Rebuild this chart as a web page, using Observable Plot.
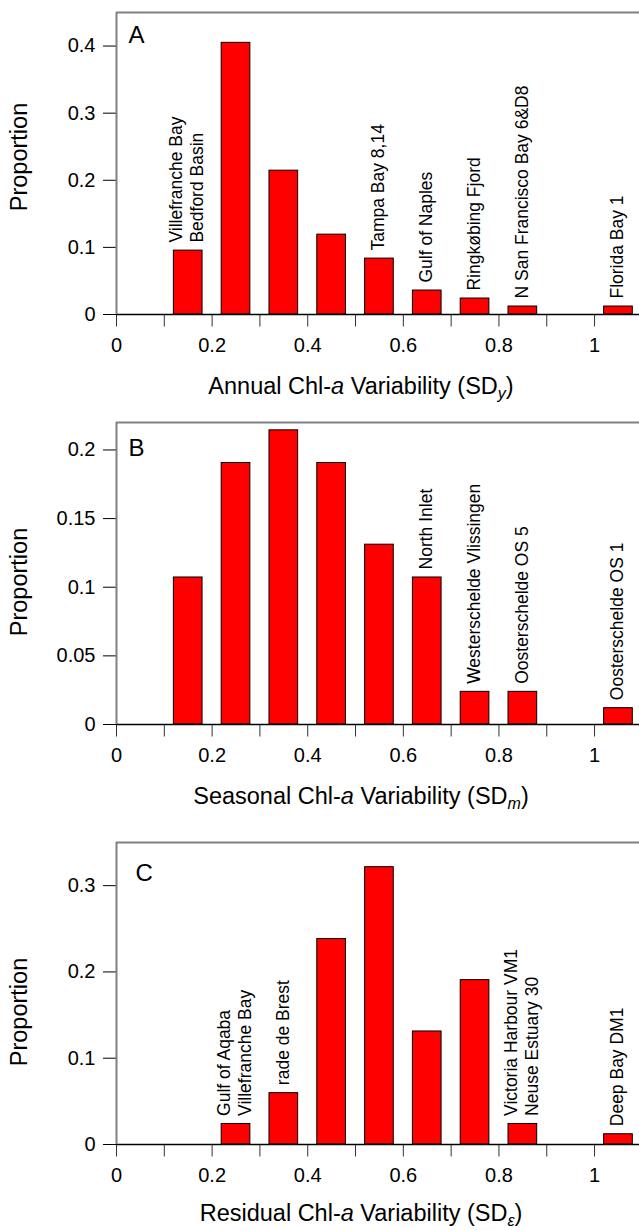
<!DOCTYPE html>
<html><head><meta charset="utf-8">
<script src="https://cdn.jsdelivr.net/npm/d3@7"></script>
<script src="https://cdn.jsdelivr.net/npm/@observablehq/plot@0.6"></script>
<style>
body{margin:0;background:#fff;}
#chart{width:639px;}
#chart svg{display:block;}
</style></head><body><div id="chart"></div>
<script>
// ---- data ----
const binCenters = [0.15, 0.25, 0.35, 0.45, 0.55, 0.65, 0.75, 0.85, 0.95, 1.05];
const annualProp   = [0.0952, 0.4048, 0.2143, 0.1190, 0.0833, 0.0357, 0.0238, 0.0119, 0, 0.0119];
const seasonalProp = [0.1071, 0.1905, 0.2143, 0.1905, 0.1310, 0.1071, 0.0238, 0.0238, 0, 0.0119];
const residualProp = [0, 0.0238, 0.0595, 0.2381, 0.3214, 0.1310, 0.1905, 0.0238, 0, 0.0119];

const annualLabelBins = [0.15, 0.55, 0.65, 0.75, 0.85, 1.05];
const annualLabelTexts = ["Villefranche Bay\nBedford Basin", "Tampa Bay 8,14", "Gulf of Naples", "Ringkøbing Fjord", "N San Francisco Bay 6&D8", "Florida Bay 1"];
const seasonalLabelBins = [0.65, 0.75, 0.85, 1.05];
const seasonalLabelTexts = ["North Inlet", "Westerschelde Vlissingen", "Oosterschelde OS 5", "Oosterschelde OS 1"];
const residualLabelBins = [0.25, 0.35, 0.85, 1.05];
const residualLabelTexts = ["Gulf of Aqaba\nVillefranche Bay", "rade de Brest", "Victoria Harbour VM1\nNeuse Estuary 30", "Deep Bay DM1"];

const xTicks = [0, 0.1, 0.2, 0.3, 0.4, 0.5, 0.6, 0.7, 0.8, 0.9, 1.0];
const xTickLabels = ["0", "", "0.2", "", "0.4", "", "0.6", "", "0.8", "", "1"];
const annualYTicks = [0, 0.1, 0.2, 0.3, 0.4];
const annualYTickLabels = ["0", "0.1", "0.2", "0.3", "0.4"];
const seasonalYTicks = [0, 0.05, 0.1, 0.15, 0.2];
const seasonalYTickLabels = ["0", "0.05", "0.1", "0.15", "0.2"];
const residualYTicks = [0, 0.1, 0.2, 0.3];
const residualYTickLabels = ["0", "0.1", "0.2", "0.3"];

const annualTitle = [["Annual Chl-"], ["a", "i"], [" Variability (SD"], ["y", "is"], [")"]];
const seasonalTitle = [["Seasonal Chl-"], ["a", "i"], [" Variability (SD"], ["m", "is"], [")"]];
const residualTitle = [["Residual Chl-"], ["a", "i"], [" Variability (SD"], ["\u03b5", "is"], [")"]];

// ---- layout ----
const FONT = "'Liberation Sans', Arial, Helvetica, sans-serif";
const W = 639, H = 410, BAR_HALF = 0.03;
const panels = [
  {letter: "A", values: annualProp, lb: annualLabelBins, lt: annualLabelTexts, yMax: 0.45,
   yt: annualYTicks, ytl: annualYTickLabels, title: annualTitle, mt: 12, mb: 96, ldx: 12, ldy: 13, yty: 157, tty: 80},
  {letter: "B", values: seasonalProp, lb: seasonalLabelBins, lt: seasonalLabelTexts, yMax: 0.22,
   yt: seasonalYTicks, ytl: seasonalYTickLabels, title: seasonalTitle, mt: 12, mb: 96, ldx: 12, ldy: 16, yty: 172, tty: 80},
  {letter: "C", values: residualProp, lb: residualLabelBins, lt: residualLabelTexts, yMax: 0.35,
   yt: residualYTicks, ytl: residualYTickLabels, title: residualTitle, mt: 22, mb: 86, ldx: 19, ldy: 21, yty: 192, tty: 77}
];

const xLabelMap = new Map(xTicks.map((t, i) => [t, xTickLabels[i]]));
const chart = document.getElementById("chart");

for (const p of panels) {
  const rows = binCenters.map((b, i) => ({bin: b, value: p.values[i]}));
  const bars = rows.filter(d => d.value > 0);
  const labels = p.lb.map((b, i) => ({bin: b, text: p.lt[i], value: rows.find(r => Math.abs(r.bin - b) < 1e-9).value}));
  const yLabelMap = new Map(p.yt.map((t, i) => [t, p.ytl[i]]));

  const svg = Plot.plot({
    width: W, height: H,
    marginLeft: 116, marginRight: 0, marginTop: p.mt, marginBottom: p.mb,
    style: {fontFamily: FONT, background: "white", color: "black", overflow: "visible"},
    x: {domain: [0, 1.094]},
    y: {domain: [0, p.yMax]},
    marks: [
      Plot.rect(bars, {x1: d => d.bin - BAR_HALF, x2: d => d.bin + BAR_HALF, y1: 0, y2: "value",
        fill: "#ff0000", stroke: "#000", strokeWidth: 1}),
      Plot.axisY({ticks: p.yt, tickFormat: d => yLabelMap.get(d), tickSize: 13, tickPadding: 8,
        fontSize: 20, label: null, stroke: "#000"}),
      Plot.axisX({ticks: xTicks, tickFormat: d => xLabelMap.get(d) ?? "", tickSize: 12.5, tickPadding: 11,
        fontSize: 20, label: null, stroke: "#333"}),
      Plot.ruleY([0], {stroke: "#000", strokeWidth: 1.3}),
      Plot.ruleX([0], {stroke: "#808080", strokeWidth: 2}),
      Plot.ruleY([p.yMax], {stroke: "#808080", strokeWidth: 2}),
      Plot.text(labels, {x: "bin", y: "value", text: "text", rotate: -90, textAnchor: "start",
        lineAnchor: "middle", lineHeight: 1.2, fontSize: 17.5, dy: -8, dx: -2, fill: "#000"}),
      Plot.text([p.letter], {frameAnchor: "top-left", dx: p.ldx, dy: p.ldy, lineAnchor: "top",
        textAnchor: "start", fontSize: 24, fill: "#000"})
    ]
  });

  const s = d3.select(svg);
  // x-axis title with italic / subscript parts
  const t = s.append("text")
    .attr("x", 361).attr("y", H - p.mb + p.tty)
    .attr("text-anchor", "middle").attr("font-size", 23.5)
    .attr("font-family", FONT).attr("fill", "#000");
  let prevSub = false;
  for (const [txt, flag] of p.title) {
    const ts = t.append("tspan").text(txt);
    if (flag && flag.includes("i")) ts.attr("font-style", "italic");
    if (flag && flag.includes("s")) { ts.attr("font-size", 16).attr("dy", 5); prevSub = true; }
    else if (prevSub) { ts.attr("dy", -5); prevSub = false; }
  }
  // y-axis title
  s.append("text")
    .attr("transform", `translate(27,${p.yty}) rotate(-90)`)
    .attr("text-anchor", "middle").attr("font-size", 23.5)
    .attr("font-family", FONT).attr("fill", "#000")
    .text("Proportion");

  chart.appendChild(svg);
}
</script>
</body></html>
